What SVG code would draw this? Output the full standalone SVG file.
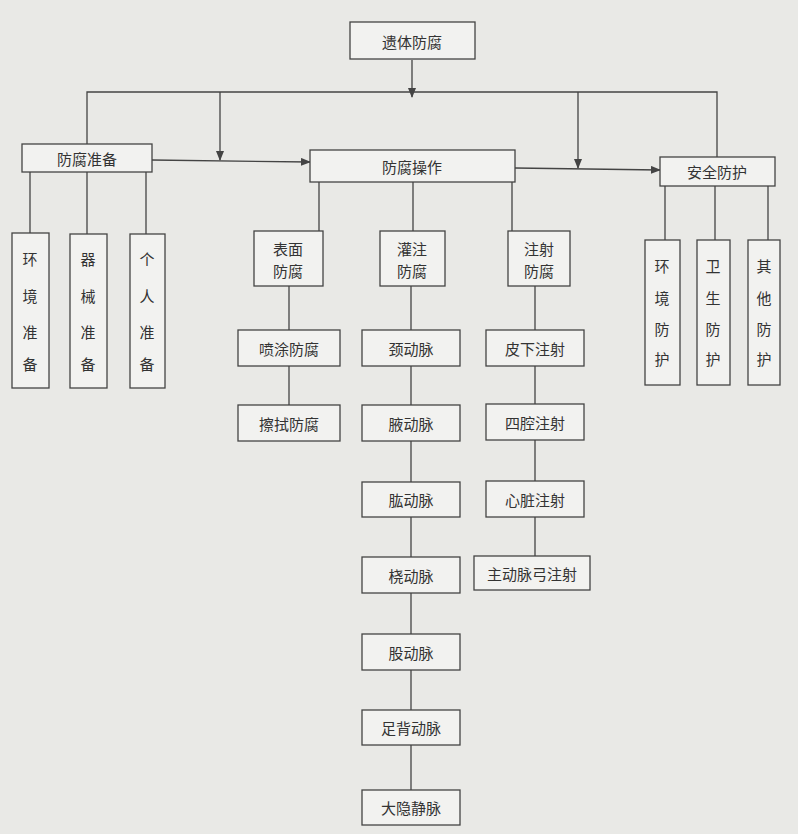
<svg xmlns="http://www.w3.org/2000/svg" width="798" height="834" viewBox="0 0 798 834">
<defs>
<marker id="ah" markerWidth="10" markerHeight="8" refX="9" refY="4" orient="auto" markerUnits="userSpaceOnUse"><path d="M0,0 L10,4 L0,8 Z" fill="#444"/></marker>
<style>
rect{fill:#f2f2f0;stroke:#444;stroke-width:1.3}
text{font-family:"Noto Sans CJK SC",sans-serif;font-size:15px;fill:#333;text-anchor:middle;dominant-baseline:central}
.c line,.c path{stroke:#444;stroke-width:1.3;fill:none}
</style>
</defs>
<rect x="0" y="0" width="798" height="834" style="fill:#e9e9e6;stroke:none"/>
<g class="c">
<line x1="412" y1="60" x2="412" y2="97" marker-end="url(#ah)"/>
<path d="M87,144 V92 H717 V157"/>
<line x1="220" y1="92" x2="220" y2="160" marker-end="url(#ah)"/>
<line x1="578" y1="92" x2="578" y2="168" marker-end="url(#ah)"/>
<line x1="152" y1="160" x2="310" y2="162" marker-end="url(#ah)"/>
<line x1="515" y1="168" x2="660" y2="170" marker-end="url(#ah)"/>
<line x1="30" y1="172" x2="30" y2="233"/>
<line x1="87" y1="172" x2="87" y2="234"/>
<line x1="146" y1="172" x2="146" y2="234"/>
<line x1="319" y1="182" x2="319" y2="231"/>
<line x1="413" y1="182" x2="413" y2="231"/>
<line x1="512" y1="182" x2="512" y2="231"/>
<line x1="289" y1="286" x2="289" y2="405"/>
<line x1="411" y1="286" x2="411" y2="790"/>
<line x1="535" y1="286" x2="535" y2="556"/>
<line x1="665" y1="186" x2="665" y2="240"/>
<line x1="715" y1="186" x2="715" y2="240"/>
<line x1="768" y1="186" x2="768" y2="240"/>
</g>
<g id="n-root"><rect x="350" y="22" width="125" height="37"/><text x="412" y="41">遗体防腐</text></g>
<g id="n-prep"><rect x="22" y="144" width="130" height="28"/><text x="87" y="158">防腐准备</text></g>
<g id="n-op"><rect x="310" y="150" width="205" height="32"/><text x="412" y="166">防腐操作</text></g>
<g id="n-safe"><rect x="660" y="157" width="115" height="29"/><text x="717" y="171">安全防护</text></g>
<g id="n-env"><rect x="12" y="233" width="37" height="155"/><text x="30" y="258">环</text><text x="30" y="295">境</text><text x="30" y="331">准</text><text x="30" y="363">备</text></g>
<g id="n-tool"><rect x="70" y="234" width="37" height="154"/><text x="88" y="258">器</text><text x="88" y="295">械</text><text x="88" y="331">准</text><text x="88" y="363">备</text></g>
<g id="n-self"><rect x="130" y="234" width="35" height="154"/><text x="147" y="258">个</text><text x="147" y="295">人</text><text x="147" y="331">准</text><text x="147" y="363">备</text></g>
<g id="n-surf"><rect x="254" y="231" width="69" height="55"/><text x="288" y="248">表面</text><text x="288" y="270">防腐</text></g>
<g id="n-perf"><rect x="380" y="231" width="65" height="55"/><text x="412" y="248">灌注</text><text x="412" y="270">防腐</text></g>
<g id="n-inj"><rect x="508" y="231" width="62" height="55"/><text x="539" y="248">注射</text><text x="539" y="270">防腐</text></g>
<g id="n-spray"><rect x="238" y="330" width="102" height="36"/><text x="289" y="348">喷涂防腐</text></g>
<g id="n-wipe"><rect x="238" y="405" width="102" height="36"/><text x="289" y="423">擦拭防腐</text></g>
<g id="n-a1"><rect x="362" y="330" width="98" height="36"/><text x="411" y="348">颈动脉</text></g>
<g id="n-a2"><rect x="362" y="405" width="98" height="36"/><text x="411" y="423">腋动脉</text></g>
<g id="n-a3"><rect x="362" y="482" width="98" height="35"/><text x="411" y="499">肱动脉</text></g>
<g id="n-a4"><rect x="362" y="557" width="98" height="36"/><text x="411" y="575">桡动脉</text></g>
<g id="n-a5"><rect x="362" y="634" width="98" height="36"/><text x="411" y="652">股动脉</text></g>
<g id="n-a6"><rect x="362" y="710" width="98" height="35"/><text x="411" y="727">足背动脉</text></g>
<g id="n-a7"><rect x="362" y="790" width="98" height="35"/><text x="411" y="807">大隐静脉</text></g>
<g id="n-i1"><rect x="486" y="330" width="98" height="36"/><text x="535" y="348">皮下注射</text></g>
<g id="n-i2"><rect x="486" y="404" width="98" height="36"/><text x="535" y="422">四腔注射</text></g>
<g id="n-i3"><rect x="486" y="481" width="98" height="36"/><text x="535" y="499">心脏注射</text></g>
<g id="n-i4"><rect x="474" y="556" width="116" height="34"/><text x="532" y="573">主动脉弓注射</text></g>
<g id="n-s1"><rect x="645" y="240" width="35" height="145"/><text x="662" y="265">环</text><text x="662" y="297">境</text><text x="662" y="328">防</text><text x="662" y="358">护</text></g>
<g id="n-s2"><rect x="697" y="240" width="33" height="145"/><text x="713" y="265">卫</text><text x="713" y="297">生</text><text x="713" y="328">防</text><text x="713" y="358">护</text></g>
<g id="n-s3"><rect x="748" y="240" width="32" height="145"/><text x="764" y="265">其</text><text x="764" y="297">他</text><text x="764" y="328">防</text><text x="764" y="358">护</text></g>
</svg>
